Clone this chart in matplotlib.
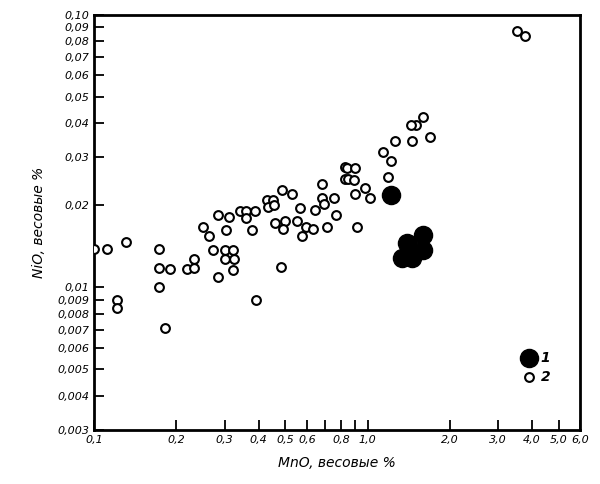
import matplotlib
matplotlib.use("Agg")
import matplotlib.pyplot as plt
from matplotlib.ticker import FixedLocator, NullLocator

open_mno = [0.100,0.111,0.131,0.121,0.121,0.172,0.172,0.172,0.190,0.182,0.219,0.232,0.232,0.251,0.264,
            0.283,0.311,0.303,0.271,0.300,0.322,0.300,0.324,0.322,0.283,0.392,0.342,0.360,0.360,0.389,
            0.379,0.427,0.450,0.431,0.454,0.486,0.530,0.457,0.499,0.490,0.482,0.553,0.567,0.577,0.597,
            0.640,0.634,0.679,0.679,0.692,0.753,0.709,0.766,0.828,0.828,
            1.59,1.51,1.44,1.26,1.46,1.69,1.14,1.22,1.19,0.842,0.902,0.849,0.894,0.975,0.902,1.02,0.918,
            3.51,3.76]
open_nio = [0.0138,0.0138,0.0147,0.0090,0.0084,0.0138,0.0118,0.0100,0.0117,0.0071,0.0117,0.0127,0.0118,0.0166,0.0155,
            0.0184,0.0182,0.0163,0.0137,0.0137,0.0137,0.0127,0.0127,0.0116,0.0109,0.0090,0.0190,0.0190,0.0180,0.0190,
            0.0163,0.0210,0.0210,0.0198,0.0200,0.0228,0.0221,0.0173,0.0175,0.0164,0.0119,0.0176,0.0195,0.0155,0.0166,
            0.0193,0.0164,0.0240,0.0212,0.0203,0.0212,0.0167,0.0185,0.0277,0.0251,
            0.0423,0.0395,0.0395,0.0345,0.0345,0.0357,0.0315,0.0292,0.0255,0.0275,0.0275,0.0249,0.0247,0.0231,0.0221,0.0212,0.0167,
            0.087,0.084]
filled_mno = [1.22,1.40,1.59,1.60,1.34,1.45]
filled_nio = [0.0219,0.0146,0.0156,0.0137,0.0128,0.0128]

xticks = [0.1,0.2,0.3,0.4,0.5,0.6,0.8,1.0,2.0,3.0,4.0,5.0,6.0]
xlabels = ["0,1","0,2","0,3","0,4","0,5","0,6","0,8","1,0","2,0","3,0","4,0","5,0","6,0"]
yticks = [0.003,0.004,0.005,0.006,0.007,0.008,0.009,0.01,0.02,0.03,0.04,0.05,0.06,0.07,0.08,0.09,0.10]
ylabels = ["0,003","0,004","0,005","0,006","0,007","0,008","0,009","0,01","0,02","0,03","0,04","0,05","0,06","0,07","0,08","0,09","0,10"]

fig = plt.figure(figsize=(6,4.84), dpi=100)
ax = fig.add_axes([0.157,0.112,0.81,0.857])
ax.set_xscale("log"); ax.set_yscale("log")
ax.set_xlim(0.1,6.0); ax.set_ylim(0.003,0.10)
ax.scatter(open_mno, open_nio, s=40, facecolors="white", edgecolors="black", linewidths=1.5, zorder=3)
ax.scatter(filled_mno, filled_nio, s=170, c="black", zorder=4)
ax.xaxis.set_major_locator(FixedLocator(xticks)); ax.set_xticklabels(xlabels)
ax.yaxis.set_major_locator(FixedLocator(yticks)); ax.set_yticklabels(ylabels)
ax.xaxis.set_minor_locator(FixedLocator([0.7,0.9]))
ax.yaxis.set_minor_locator(NullLocator())
ax.tick_params(which="both", direction="in", length=7, width=1.3, labelsize=8)
for lab in ax.get_xticklabels()+ax.get_yticklabels():
    lab.set_fontstyle("italic")
for sp in ax.spines.values():
    sp.set_linewidth(2)
ax.set_xlabel("MnO, весовые %", fontsize=10, fontstyle="italic", labelpad=8)
ax.set_ylabel("NiO, весовые %", fontsize=10, fontstyle="italic", labelpad=8)
ax.scatter([3.9],[0.0055], s=170, c="black")
ax.scatter([3.9],[0.0047], s=40, facecolors="white", edgecolors="black", linewidths=1.5)
ax.text(4.3,0.0055,"1",va="center",fontsize=10,fontstyle="italic",fontweight="bold")
ax.text(4.3,0.0047,"2",va="center",fontsize=10,fontstyle="italic",fontweight="bold")
fig.savefig("out.png", dpi=100)
